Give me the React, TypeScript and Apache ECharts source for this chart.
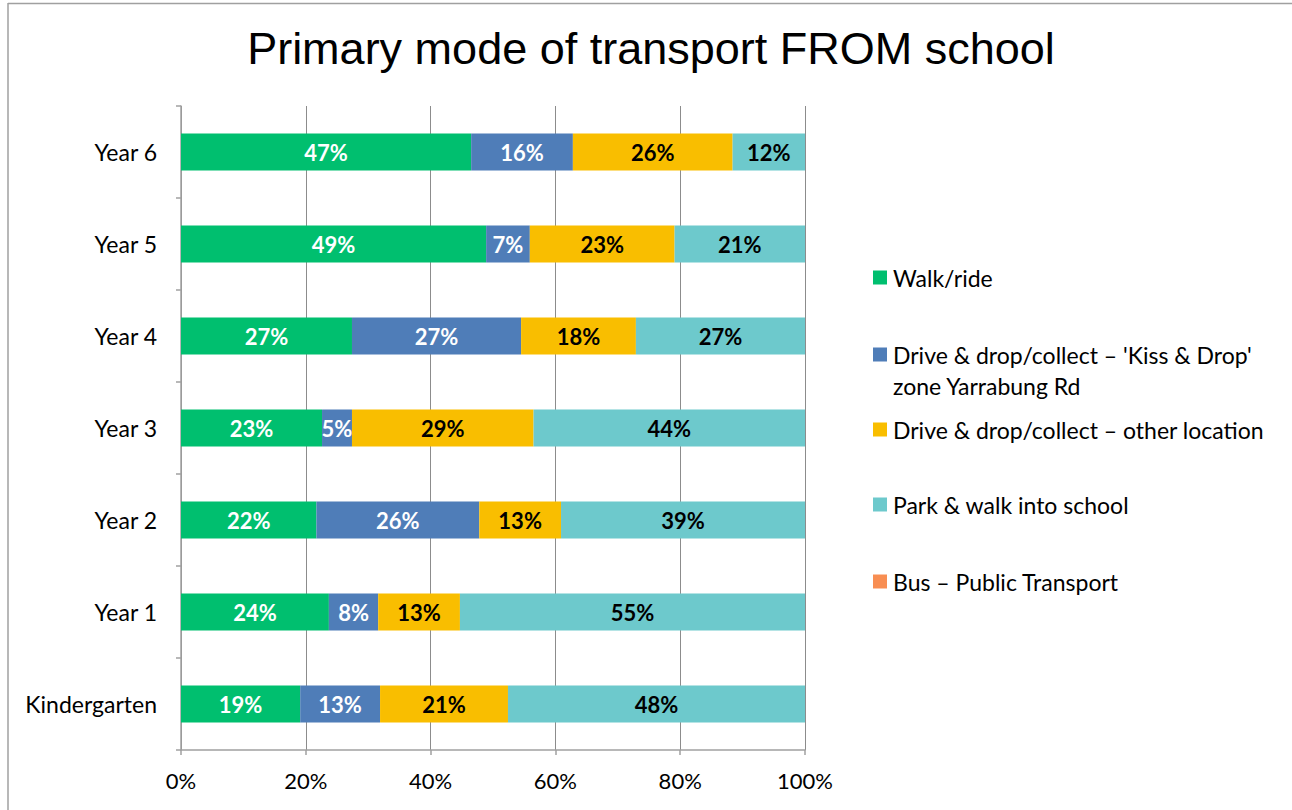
import React, { useEffect, useRef } from "react";
import * as echarts from "echarts";

const categories = ["Year 6", "Year 5", "Year 4", "Year 3", "Year 2", "Year 1", "Kindergarten"];
const walkRide = [46.5, 48.9, 27.4, 22.6, 21.7, 23.7, 19.1];
const kissDrop = [16.3, 7.0, 27.1, 4.8, 26.1, 7.9, 12.8];
const otherLocation = [25.6, 23.2, 18.4, 29.1, 13.1, 13.1, 20.5];
const parkWalk = [11.6, 20.9, 27.1, 43.5, 39.1, 55.3, 47.6];
const bus = [0, 0, 0, 0, 0, 0, 0];
const xTicks = [0, 20, 40, 60, 80, 100];

const seriesNames = [
  "Walk/ride",
  "Drive & drop/collect – 'Kiss & Drop' zone Yarrabung Rd",
  "Drive & drop/collect – other location",
  "Park & walk into school",
  "Bus – Public Transport",
];
const colors = ["#00BF6F", "#4F7DB8", "#F9BE00", "#6DC9CC", "#F88E52"];
const labelColors = ["#ffffff", "#ffffff", "#000000", "#000000", "#000000"];
const seriesData = [walkRide, kissDrop, otherLocation, parkWalk, bus];

const FONT = "Lato, 'Open Sans', sans-serif";

export default function App() {
  const ref = useRef<HTMLDivElement>(null);
  useEffect(() => {
    if (!ref.current) return;
    const chart = echarts.init(ref.current, undefined, { renderer: "svg" });
    const legendTops = [278, 355, 430, 505, 582];
    chart.setOption({
      animation: false,
      backgroundColor: "#ffffff",
      title: {
        text: "Primary mode of transport FROM school",
        left: 651,
        textAlign: "center",
        top: 26,
        padding: 0,
        textStyle: {
          fontFamily: "'Liberation Sans', Arial, sans-serif",
          fontSize: 45,
          fontWeight: "normal",
          color: "#000",
        },
      },
      grid: { left: 181, right: 487, top: 106, bottom: 60, containLabel: false },
      xAxis: {
        type: "value",
        min: xTicks[0],
        max: xTicks[xTicks.length - 1],
        interval: 20,
        axisLabel: {
          formatter: "{value}%",
          fontFamily: FONT,
          fontSize: 22,
          color: "#000",
          margin: 19,
        },
        axisLine: { show: true, lineStyle: { color: "#A0A0A0", width: 1.5 } },
        axisTick: { show: true, length: 5, lineStyle: { color: "#A0A0A0", width: 1.5 } },
        splitLine: { show: true, lineStyle: { color: "#8C8C8C", width: 1 } },
      },
      yAxis: {
        type: "category",
        data: categories,
        inverse: true,
        axisLabel: { fontFamily: FONT, fontSize: 23, color: "#000", margin: 24 },
        axisLine: { show: true, lineStyle: { color: "#A0A0A0", width: 1.5 } },
        axisTick: { show: true, length: 5, lineStyle: { color: "#A0A0A0", width: 1.5 } },
      },
      legend: seriesNames.map((name, i) => ({
        data: [name],
        left: 873,
        top: legendTops[i] - 12,
        padding: 0,
        orient: "vertical",
        itemWidth: 14,
        itemHeight: 14,
        itemGap: 0,
        selectedMode: false,
        icon: "rect",
        formatter: (n: string) => (i === 1 ? "Drive & drop/collect – 'Kiss & Drop'" : n),
        textStyle: { fontFamily: FONT, fontSize: 23, color: "#000", padding: [0, 0, 0, 1] },
      })),
      graphic: [
        {
          type: "text",
          left: 893,
          top: 374,
          style: { text: "zone Yarrabung Rd", fontFamily: FONT, fontSize: 23, fill: "#000" },
        },
        { type: "line", shape: { x1: 8, y1: 3.5, x2: 1292, y2: 3.5 }, style: { stroke: "#A0A0A0", lineWidth: 1.5 } },
        { type: "line", shape: { x1: 8, y1: 3, x2: 8, y2: 810 }, style: { stroke: "#A0A0A0", lineWidth: 1.5 } },
      ],
      series: seriesNames.map((name, i) => ({
        name,
        type: "bar",
        stack: "total",
        barWidth: 37,
        data: seriesData[i],
        itemStyle: { color: colors[i] },
        label: {
          show: i < 4,
          position: "inside",
          formatter: (p: any) => Math.round(p.value) + "%",
          fontFamily: FONT,
          fontSize: 22,
          fontWeight: "bold",
          color: labelColors[i],
        },
      })),
    });
    return () => chart.dispose();
  }, []);
  return (
    <div
      ref={ref}
      style={{ position: "absolute", left: 0, top: 0, width: 1292, height: 810 }}
    />
  );
}
